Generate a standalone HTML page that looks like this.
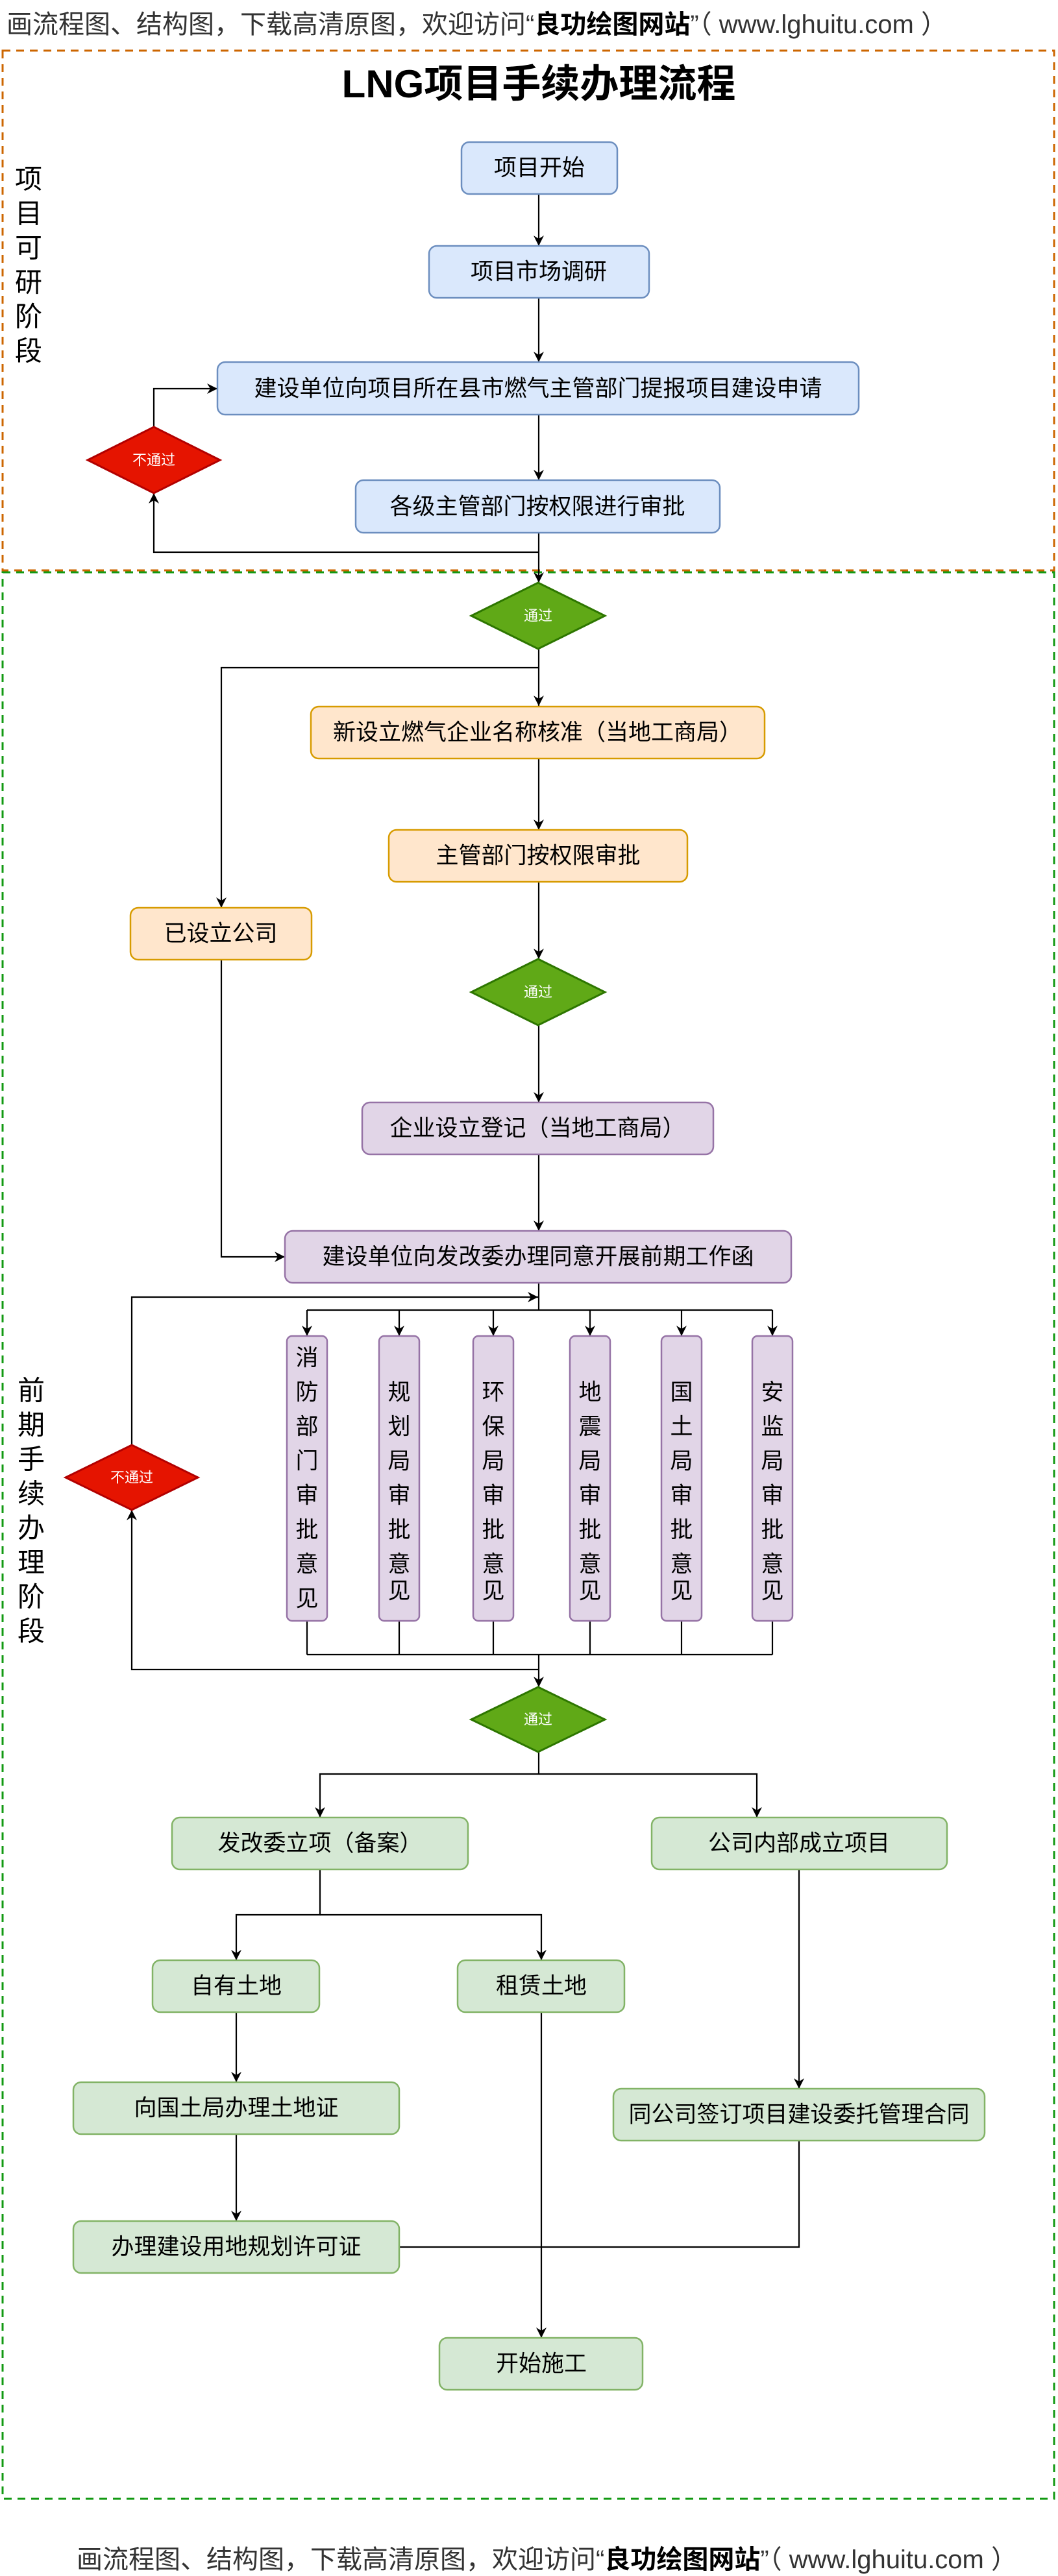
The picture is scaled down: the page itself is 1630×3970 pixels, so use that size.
<!DOCTYPE html>
<html><head><meta charset="utf-8"><style>
html,body{margin:0;padding:0;background:#fff;}
svg{display:block;}
text{font-family:"Liberation Sans","Noto Sans CJK SC",sans-serif;}
</style></head><body>
<svg width="1630" height="3970" viewBox="0 0 1630 3970" xmlns="http://www.w3.org/2000/svg">
<defs>
<marker id="a" markerUnits="userSpaceOnUse" markerWidth="18" markerHeight="18" refX="16" refY="8" orient="auto">
<path d="M0,0 L16,8 L0,16 L5,8 Z" fill="#000"/>
</marker>
</defs>
<text x="10" y="51" font-size="40" fill="#333">画流程图、结构图，下载高清原图，欢迎访问“<tspan font-weight="bold" fill="#000">良功绘图网站</tspan>”（ www.lghuitu.com ）</text>
<rect x="4" y="78" width="1620" height="801" fill="none" stroke="#cc6600" stroke-width="3" stroke-dasharray="12 9"/>
<rect x="4" y="882" width="1620" height="2969" fill="none" stroke="#129912" stroke-width="3" stroke-dasharray="12 9"/>
<text x="830" y="150" font-size="60" font-weight="bold" text-anchor="middle" fill="#000">LNG项目手续办理流程</text>
<g font-size="42" text-anchor="middle" fill="#000" dominant-baseline="central">
<text x="44" y="276">项</text><text x="44" y="329">目</text><text x="44" y="382">可</text><text x="44" y="435">研</text><text x="44" y="488">阶</text><text x="44" y="541">段</text>
<text x="48" y="2143">前</text><text x="48" y="2196">期</text><text x="48" y="2249">手</text><text x="48" y="2302">续</text><text x="48" y="2355">办</text><text x="48" y="2408">理</text><text x="48" y="2461">阶</text><text x="48" y="2514">段</text>
</g>
<g stroke="#000" stroke-width="2.2" fill="none">
<path d="M830,299V379" marker-end="url(#a)"/>
<path d="M830,459V558" marker-end="url(#a)"/>
<path d="M830,639V740" marker-end="url(#a)"/>
<path d="M830,821V898" marker-end="url(#a)"/>
<path d="M830,851H237V760" marker-end="url(#a)"/>
<path d="M237,658V599H335" marker-end="url(#a)"/>
<path d="M830,999V1088" marker-end="url(#a)"/>
<path d="M830,1029H341V1399" marker-end="url(#a)"/>
<path d="M830,1169V1279" marker-end="url(#a)"/>
<path d="M830,1359V1478" marker-end="url(#a)"/>
<path d="M830,1580V1699" marker-end="url(#a)"/>
<path d="M830,1779V1897" marker-end="url(#a)"/>
<path d="M341,1479V1937H439" marker-end="url(#a)"/>
<path d="M830,1977V2019"/>
<path d="M473,2019H1190"/>
<path d="M473,2019V2059" marker-end="url(#a)"/>
<path d="M615,2019V2059" marker-end="url(#a)"/>
<path d="M760,2019V2059" marker-end="url(#a)"/>
<path d="M909,2019V2059" marker-end="url(#a)"/>
<path d="M1050,2019V2059" marker-end="url(#a)"/>
<path d="M1190,2019V2059" marker-end="url(#a)"/>
<path d="M203,2227V1999H829" marker-end="url(#a)"/>
<path d="M473,2498V2550M615,2498V2550M760,2498V2550M909,2498V2550M1050,2498V2550M1190,2498V2550M473,2550H1190"/>
<path d="M830,2550V2600" marker-end="url(#a)"/>
<path d="M830,2573H203V2327" marker-end="url(#a)"/>
<path d="M830,2700V2734H493V2801" marker-end="url(#a)"/>
<path d="M830,2734H1166V2801" marker-end="url(#a)"/>
<path d="M493,2881V2951H364V3021" marker-end="url(#a)"/>
<path d="M493,2951H834V3021" marker-end="url(#a)"/>
<path d="M364,3101V3209" marker-end="url(#a)"/>
<path d="M364,3289V3423" marker-end="url(#a)"/>
<path d="M834,3101V3603" marker-end="url(#a)"/>
<path d="M1231,2881V3219" marker-end="url(#a)"/>
<path d="M1231,3299V3463H615"/>
</g>
<g stroke-width="2.5">
<rect x="711" y="219" width="240" height="80" rx="12" fill="#dae8fc" stroke="#6c8ebf"/>
<rect x="661" y="379" width="339" height="80" rx="12" fill="#dae8fc" stroke="#6c8ebf"/>
<rect x="335" y="558" width="988" height="81" rx="12" fill="#dae8fc" stroke="#6c8ebf"/>
<rect x="548" y="740" width="561" height="81" rx="12" fill="#dae8fc" stroke="#6c8ebf"/>
<rect x="479" y="1089" width="699" height="80" rx="12" fill="#ffe6cc" stroke="#d79b00"/>
<rect x="599" y="1279" width="460" height="80" rx="12" fill="#ffe6cc" stroke="#d79b00"/>
<rect x="201" y="1399" width="279" height="80" rx="12" fill="#ffe6cc" stroke="#d79b00"/>
<rect x="558" y="1699" width="541" height="80" rx="12" fill="#e1d5e7" stroke="#9673a6"/>
<rect x="439" y="1897" width="780" height="80" rx="12" fill="#e1d5e7" stroke="#9673a6"/>
<rect x="442" y="2059" width="62" height="439" rx="8" fill="#e1d5e7" stroke="#9673a6"/>
<rect x="584" y="2059" width="62" height="439" rx="8" fill="#e1d5e7" stroke="#9673a6"/>
<rect x="729" y="2059" width="62" height="439" rx="8" fill="#e1d5e7" stroke="#9673a6"/>
<rect x="878" y="2059" width="62" height="439" rx="8" fill="#e1d5e7" stroke="#9673a6"/>
<rect x="1019" y="2059" width="62" height="439" rx="8" fill="#e1d5e7" stroke="#9673a6"/>
<rect x="1159" y="2059" width="62" height="439" rx="8" fill="#e1d5e7" stroke="#9673a6"/>
<rect x="265" y="2801" width="456" height="80" rx="12" fill="#d5e8d4" stroke="#82b366"/>
<rect x="1004" y="2801" width="455" height="80" rx="12" fill="#d5e8d4" stroke="#82b366"/>
<rect x="235" y="3021" width="257" height="80" rx="12" fill="#d5e8d4" stroke="#82b366"/>
<rect x="705" y="3021" width="257" height="80" rx="12" fill="#d5e8d4" stroke="#82b366"/>
<rect x="113" y="3209" width="502" height="80" rx="12" fill="#d5e8d4" stroke="#82b366"/>
<rect x="945" y="3219" width="572" height="80" rx="12" fill="#d5e8d4" stroke="#82b366"/>
<rect x="113" y="3423" width="502" height="80" rx="12" fill="#d5e8d4" stroke="#82b366"/>
<rect x="677" y="3603" width="313" height="80" rx="12" fill="#d5e8d4" stroke="#82b366"/>
</g>
<g stroke-width="3">
<path d="M237,658 L339,709 L237,760 L135,709 Z" fill="#e51400" stroke="#b20000"/>
<path d="M203,2227 L305,2277 L203,2327 L101,2277 Z" fill="#e51400" stroke="#b20000"/>
<path d="M829,898 L932,949 L829,1000 L726,949 Z" fill="#60a917" stroke="#2d7600"/>
<path d="M829,1478 L932,1529 L829,1580 L726,1529 Z" fill="#60a917" stroke="#2d7600"/>
<path d="M829,2600 L932,2650 L829,2700 L726,2650 Z" fill="#60a917" stroke="#2d7600"/>
</g>
<g font-size="22" fill="#fff" text-anchor="middle" dominant-baseline="central">
<text x="237" y="709">不通过</text>
<text x="203" y="2277">不通过</text>
<text x="829" y="949">通过</text>
<text x="829" y="1529">通过</text>
<text x="829" y="2650">通过</text>
</g>
<g font-size="35" fill="#000" text-anchor="middle" dominant-baseline="central">
<text x="831" y="259">项目开始</text>
<text x="830" y="419">项目市场调研</text>
<text x="829" y="599">建设单位向项目所在县市燃气主管部门提报项目建设申请</text>
<text x="828" y="781">各级主管部门按权限进行审批</text>
<text x="828" y="1129">新设立燃气企业名称核准（当地工商局）</text>
<text x="829" y="1319">主管部门按权限审批</text>
<text x="340" y="1439">已设立公司</text>
<text x="828" y="1739">企业设立登记（当地工商局）</text>
<text x="829" y="1937">建设单位向发改委办理同意开展前期工作函</text>
<text x="493" y="2841">发改委立项（备案）</text>
<text x="1231" y="2841">公司内部成立项目</text>
<text x="364" y="3061">自有土地</text>
<text x="834" y="3061">租赁土地</text>
<text x="364" y="3249">向国土局办理土地证</text>
<text x="1231" y="3259">同公司签订项目建设委托管理合同</text>
<text x="364" y="3463">办理建设用地规划许可证</text>
<text x="834" y="3643">开始施工</text>
</g>
<g font-size="35" fill="#000" text-anchor="middle" dominant-baseline="central">
<text x="473" y="2093">消</text><text x="473" y="2146">防</text><text x="473" y="2199">部</text><text x="473" y="2252">门</text><text x="473" y="2305">审</text><text x="473" y="2358">批</text><text x="473" y="2411">意</text><text x="473" y="2464">见</text>
<text x="615" y="2146">规</text><text x="615" y="2199">划</text><text x="615" y="2252">局</text><text x="615" y="2305">审</text><text x="615" y="2358">批</text><text x="615" y="2411">意</text>
<text x="760" y="2146">环</text><text x="760" y="2199">保</text><text x="760" y="2252">局</text><text x="760" y="2305">审</text><text x="760" y="2358">批</text><text x="760" y="2411">意</text>
<text x="909" y="2146">地</text><text x="909" y="2199">震</text><text x="909" y="2252">局</text><text x="909" y="2305">审</text><text x="909" y="2358">批</text><text x="909" y="2411">意</text>
<text x="1050" y="2146">国</text><text x="1050" y="2199">土</text><text x="1050" y="2252">局</text><text x="1050" y="2305">审</text><text x="1050" y="2358">批</text><text x="1050" y="2411">意</text>
<text x="1190" y="2146">安</text><text x="1190" y="2199">监</text><text x="1190" y="2252">局</text><text x="1190" y="2305">审</text><text x="1190" y="2358">批</text><text x="1190" y="2411">意</text>
<text x="615" y="2452">见</text><text x="760" y="2452">见</text><text x="909" y="2452">见</text><text x="1050" y="2452">见</text><text x="1190" y="2452">见</text>
</g>
<text x="118" y="3958" font-size="40" fill="#333">画流程图、结构图，下载高清原图，欢迎访问“<tspan font-weight="bold" fill="#000">良功绘图网站</tspan>”（ www.lghuitu.com ）</text>
</svg>
</body></html>
